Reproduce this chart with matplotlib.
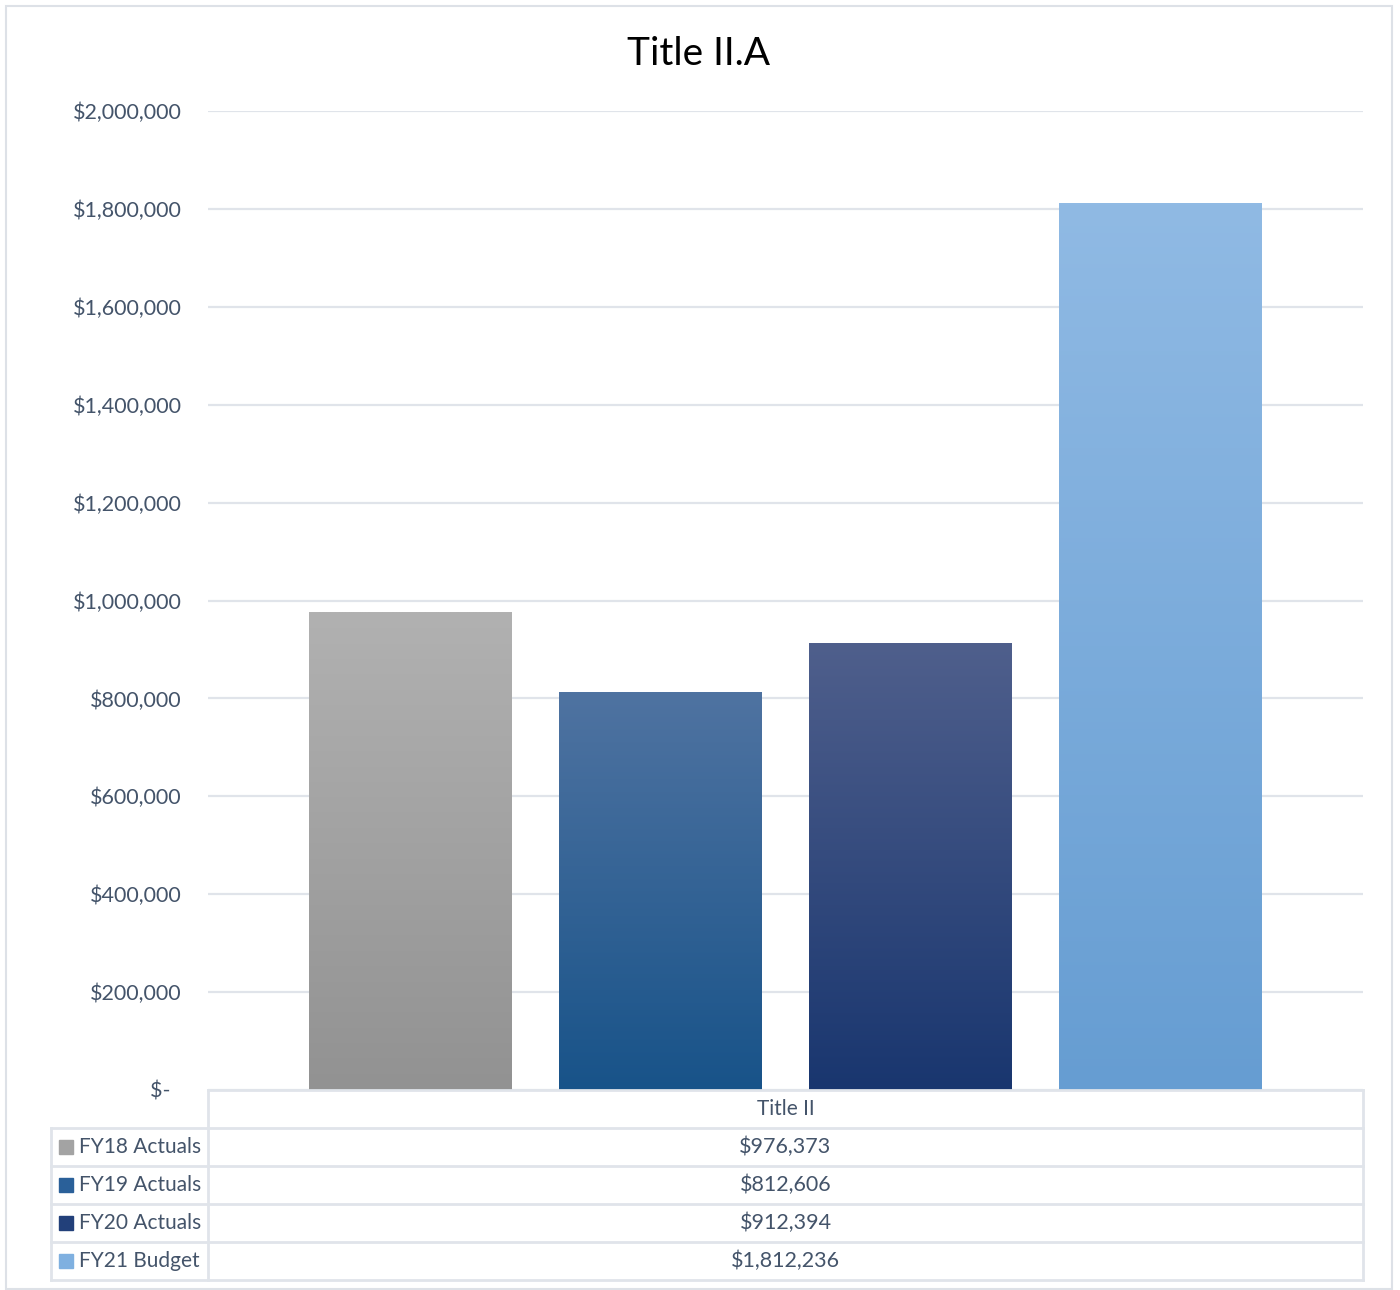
import numpy as np
import matplotlib
matplotlib.use("Agg")
import matplotlib.pyplot as plt
from matplotlib.lines import Line2D
from matplotlib.patches import Rectangle
from matplotlib.colors import LinearSegmentedColormap
from matplotlib.ticker import FixedLocator, FuncFormatter

# ---- data ----
category = "Title II"
series = ["FY18 Actuals", "FY19 Actuals", "FY20 Actuals", "FY21 Budget"]
values = [976373, 812606, 912394, 1812236]
value_labels = ["$976,373", "$812,606", "$912,394", "$1,812,236"]
y_ticks = [0, 200000, 400000, 600000, 800000, 1000000, 1200000,
           1400000, 1600000, 1800000, 2000000]

# gradient (top, bottom) colours per series
grad_top = ["#b1b1b1", "#4f73a1", "#4f5f8c", "#90bae4"]
grad_bot = ["#929292", "#185389", "#19366f", "#669dd2"]
key_colors = ["#a3a3a3", "#2a6099", "#22407a", "#7fb0e0"]

W, H = 1400, 1290
plt.rcParams["font.family"] = ["Lato", "DejaVu Sans"]
text_color = "#44546a"
line_color = "#e0e4ea"

fig = plt.figure(figsize=(W / 100, H / 100), dpi=100)


def fx(px):
    return px / W


def fy(py):
    return 1 - py / H


# outer chart border
fig.add_artist(Rectangle((fx(6), fy(1289)), fx(1392) - fx(6), fy(6) - fy(1289),
                         transform=fig.transFigure, fill=False,
                         edgecolor="#dde1e7", linewidth=1.5))

left, right, top, bottom = 208, 1363, 111, 1090
ax = fig.add_axes([fx(left), fy(bottom), fx(right) - fx(left), fy(top) - fy(bottom)])
ax.set_xlim(-0.5, 0.5)
ax.set_ylim(0, 2000000)
for s in ax.spines.values():
    s.set_visible(False)
ax.set_xticks([])
ax.yaxis.set_major_locator(FixedLocator(y_ticks))
ax.yaxis.set_major_formatter(FuncFormatter(
    lambda v, p: "$-  " if v == 0 else f"${v:,.0f}"))
ax.tick_params(axis="y", length=0, pad=19, labelsize=15.5, labelcolor=text_color)
ax.grid(axis="y", color=line_color, linewidth=1.6)
ax.set_axisbelow(True)

# bars with vertical gradient fills
bar_w = 203 / 1155
step = 250 / 1155
positions = [(i - 1.5) * step for i in range(len(values))]
bars = ax.bar(positions, values, width=bar_w, color="none", zorder=2)
for b, ct, cb in zip(bars, grad_top, grad_bot):
    cmap = LinearSegmentedColormap.from_list("g", [cb, ct])
    grad = np.linspace(0, 1, 256).reshape(-1, 1)
    im = ax.imshow(grad, cmap=cmap, aspect="auto", origin="lower",
                   extent=[b.get_x(), b.get_x() + b.get_width(), 0, b.get_height()],
                   zorder=2)
    im.set_clip_path(b)
ax.set_xlim(-0.5, 0.5)
ax.set_ylim(0, 2000000)

# title
fig.text(fx(699), fy(54), "Title II.A", ha="center", va="center",
         fontsize=28, color="#000000")

# ---- data table ----
rows = [1090, 1128, 1166, 1204, 1242, 1280]
lw = 2


def hline(x0, x1, y):
    fig.add_artist(Line2D([fx(x0), fx(x1)], [fy(y), fy(y)],
                          transform=fig.transFigure, color=line_color, lw=lw))


def vline(x, y0, y1):
    fig.add_artist(Line2D([fx(x), fx(x)], [fy(y0), fy(y1)],
                          transform=fig.transFigure, color=line_color, lw=lw))


hline(left, right, rows[0])
for r in rows[1:]:
    hline(51, right, r)
vline(left, rows[0], rows[-1])
vline(right, rows[0], rows[-1])
vline(51, rows[1], rows[-1])

mid_x = (left + right) / 2
fig.text(fx(mid_x), fy((rows[0] + rows[1]) / 2), category, ha="center",
         va="center", fontsize=15, color=text_color)
for i, (name, lab, kc) in enumerate(zip(series, value_labels, key_colors)):
    yc = (rows[i + 1] + rows[i + 2]) / 2
    fig.add_artist(Rectangle((fx(59), fy(yc + 7)), fx(14), 14 / H,
                             transform=fig.transFigure, color=kc))
    fig.text(fx(79), fy(yc), name, ha="left", va="center",
             fontsize=15, color=text_color)
    fig.text(fx(mid_x), fy(yc), lab, ha="center", va="center",
             fontsize=15.5, color=text_color)

fig.savefig("out.png", dpi=100, facecolor="white")
